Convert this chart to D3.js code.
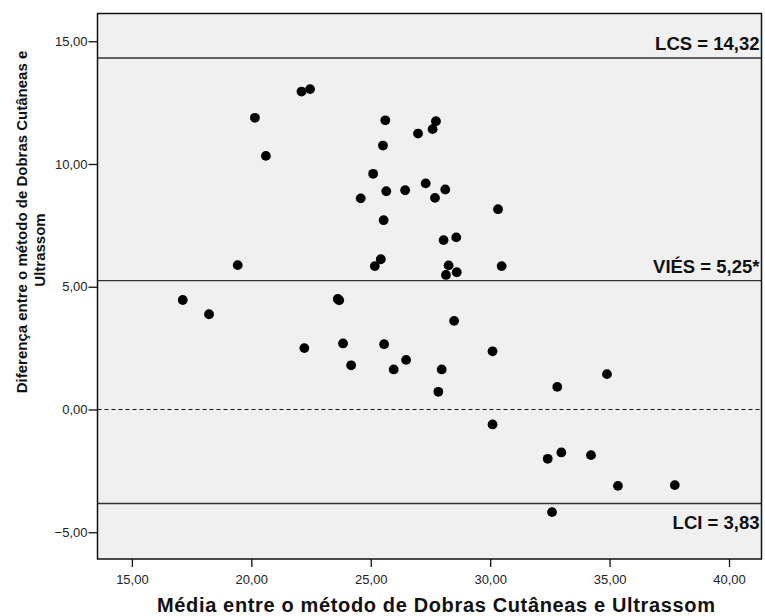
<!doctype html>
<html lang="pt">

<head>
	<meta charset="utf-8" />
	<title>Bland-Altman</title>
	<style>
		body {
			margin: 0;
			background: #fff;
			font-family: "Liberation Sans", Arial, sans-serif;
		}

		.tick text {
			font-size: 13px;
			fill: #222;
		}

		.axis-title {
			font-weight: bold;
			fill: #111;
		}

		.lim-label {
			font-size: 18.5px;
			font-weight: bold;
			fill: #111;
		}
	</style>
</head>

<body>
	<svg width="765" height="616"></svg>

	<script src="https://cdn.jsdelivr.net/npm/d3@7"></script>
	<script>
		// media entre os metodos (x) e diferenca (y)
		var mediaX = [22.10, 22.46, 20.15, 20.61, 24.58, 25.61, 27.73, 27.59, 26.98, 25.51,
			25.10, 25.65, 26.44, 27.30, 28.12, 27.69, 30.33, 25.54, 19.43, 17.13,
			18.23, 23.62, 23.68, 22.22, 23.84, 24.18, 28.05, 28.58, 25.42, 25.17,
			28.26, 28.60, 28.15, 30.48, 28.49, 25.56, 26.48, 25.96, 27.97, 30.10,
			27.83, 32.81, 30.10, 32.41, 32.59, 34.89, 32.98, 34.22, 35.35, 37.73];
		var diferencaY = [12.95, 13.05, 11.88, 10.33, 8.60, 11.78, 11.74, 11.42, 11.24, 10.75,
			9.60, 8.89, 8.93, 9.21, 8.96, 8.62, 8.16, 7.71, 5.88, 4.46,
			3.88, 4.50, 4.45, 2.50, 2.69, 1.80, 6.90, 7.01, 6.12, 5.84,
			5.87, 5.59, 5.48, 5.84, 3.61, 2.66, 2.02, 1.63, 1.63, 2.37,
			0.72, 0.92, -0.61, -2.01, -4.18, 1.44, -1.75, -1.86, -3.11, -3.08];

		var xTicks = [15, 20, 25, 30, 35, 40];
		var yTicks = [-5, 0, 5, 10, 15];

		var limValues = [14.32, 5.25, -3.83];
		var limLabels = ["LCS = 14,32", "VIÉS = 5,25*", "LCI = 3,83"];

		var xTitle = "Média entre o método de Dobras Cutâneas e Ultrassom";
		var yTitle = ["Diferença entre o método de Dobras Cutâneas e", "Ultrassom"];

		var svg = d3.select("svg");
		var pLeft = 97.5, pRight = 761.5, pTop = 13.5, pBottom = 559;

		var x = d3.scaleLinear().domain([13.56, 41.36]).range([pLeft, pRight]);
		var y = d3.scaleLinear().domain([-6.09, 16.13]).range([pBottom, pTop]);

		var fmt = function (d) { return d3.format(".2f")(d).replace(".", ","); };

		// fundo da area do grafico
		svg.append("rect")
			.attr("x", pLeft).attr("y", pTop)
			.attr("width", pRight - pLeft).attr("height", pBottom - pTop)
			.style("fill", "#f0f0f0");

		// linha do zero tracejada
		svg.append("line")
			.attr("x1", pLeft).attr("x2", pRight)
			.attr("y1", y(0)).attr("y2", y(0))
			.style("stroke", "#111").style("stroke-width", 1)
			.style("stroke-dasharray", "4,3");

		// limites de concordancia
		svg.selectAll("line.lim")
			.data(limValues)
			.enter().append("line")
			.attr("class", "lim")
			.attr("x1", pLeft).attr("x2", pRight)
			.attr("y1", function (d) { return y(d); })
			.attr("y2", function (d) { return y(d); })
			.style("stroke", "#333").style("stroke-width", 1.4);

		svg.selectAll("text.lim-label")
			.data(limValues)
			.enter().append("text")
			.attr("class", "lim-label")
			.attr("text-anchor", "end")
			.attr("x", pRight - 2)
			.attr("y", function (d, i) { return i == 2 ? y(d) + 25 : y(d) - 8; })
			.text(function (d, i) { return limLabels[i]; });

		// pontos
		svg.selectAll("circle.pt")
			.data(mediaX)
			.enter().append("circle")
			.attr("class", "pt")
			.attr("cx", function (d) { return x(d); })
			.attr("cy", function (d, i) { return y(diferencaY[i]); })
			.attr("r", 4.9)
			.style("fill", "#000");

		// moldura
		svg.append("rect")
			.attr("x", pLeft).attr("y", pTop)
			.attr("width", pRight - pLeft).attr("height", pBottom - pTop)
			.style("fill", "none").style("stroke", "#111").style("stroke-width", 1.5);

		var xAxis = svg.append("g")
			.attr("transform", "translate(0," + pBottom + ")")
			.call(d3.axisBottom(x).tickValues(xTicks).tickFormat(fmt).tickSize(8).tickSizeOuter(0));
		xAxis.select(".domain").remove();
		xAxis.selectAll(".tick line").style("stroke", "#111").style("stroke-width", 1.3);
		xAxis.selectAll(".tick text").attr("dy", "1.1em");

		var yAxis = svg.append("g")
			.attr("transform", "translate(" + pLeft + ",0)")
			.call(d3.axisLeft(y).tickValues(yTicks).tickFormat(fmt).tickSize(9).tickSizeOuter(0));
		yAxis.select(".domain").remove();
		yAxis.selectAll(".tick line").style("stroke", "#111").style("stroke-width", 1.3);
		yAxis.selectAll(".tick text").attr("x", -10);

		// titulos dos eixos
		svg.append("text")
			.attr("class", "axis-title")
			.attr("text-anchor", "middle")
			.style("font-size", "20px")
			.attr("x", 436)
			.attr("y", 612)
			.attr("textLength", 558)
			.attr("lengthAdjust", "spacing")
			.text(xTitle);

		svg.append("text")
			.attr("class", "axis-title")
			.attr("text-anchor", "middle")
			.style("font-size", "15px")
			.attr("transform", "translate(27,222) rotate(-90)")
			.text(yTitle[0]);

		svg.append("text")
			.attr("class", "axis-title")
			.attr("text-anchor", "middle")
			.style("font-size", "15px")
			.attr("transform", "translate(45,250) rotate(-90)")
			.text(yTitle[1]);
	</script>
</body>

</html>
